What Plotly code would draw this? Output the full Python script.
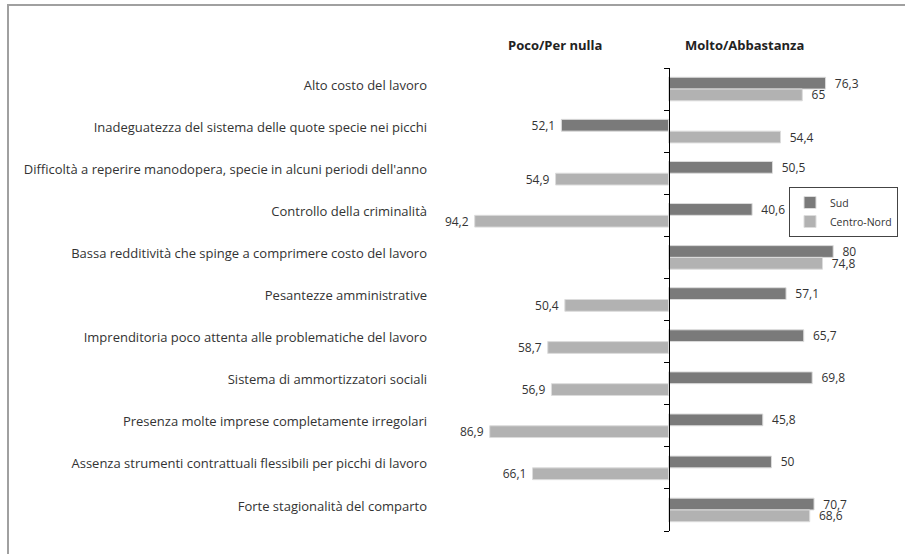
import plotly.graph_objects as go

categories = [
    "Alto costo del lavoro",
    "Inadeguatezza del sistema delle quote specie nei picchi",
    "Difficoltà a reperire manodopera, specie in alcuni periodi dell'anno",
    "Controllo della criminalità",
    "Bassa redditività che spinge a comprimere costo del lavoro",
    "Pesantezze amministrative",
    "Imprenditoria poco attenta alle problematiche del lavoro",
    "Sistema di ammortizzatori sociali",
    "Presenza molte imprese completamente irregolari",
    "Assenza strumenti contrattuali flessibili per picchi di lavoro",
    "Forte stagionalità del comparto",
]
# positive = Molto/Abbastanza, negative = Poco/Per nulla
sud = [76.3, -52.1, 50.5, 40.6, 80, 57.1, 65.7, 69.8, 45.8, 50, 70.7]
centro_nord = [65, 54.4, -54.9, -94.2, 74.8, -50.4, -58.7, -56.9, -86.9, -66.1, 68.6]
series_names = ["Sud", "Centro-Nord"]
colors = ["#7a7a7a", "#b2b2b2"]
headers = ["Poco/Per nulla", "Molto/Abbastanza"]

FONT = "Open Sans"
NB = "\u00a0"


def fmt(v):
    s = ("%g" % abs(v)).replace(".", ",")
    return NB * 2 + s if v >= 0 else s + NB


# page geometry (pixels)
W, H = 905, 554
ML, MR, MT, MB = 436, 7, 68, 23
PW = W - ML - MR
PH = H - MT - MB
XMIN = -113
XMAX = XMIN + PW / 2.058
n = len(categories)

fig = go.Figure()
for name, vals, col in zip(series_names, [sud, centro_nord], colors):
    fig.add_trace(go.Bar(
        x=vals, y=categories, orientation="h", name=name,
        marker=dict(color=col, line=dict(color="#dcdcdc", width=1)),
        text=[fmt(v) for v in vals], textposition="outside",
        constraintext="none",
        textfont=dict(family=FONT, size=12, color="#333333"),
        cliponaxis=False, hoverinfo="skip",
    ))

# invisible helper trace so the central axis (with boundary ticks) is drawn
fig.add_trace(go.Scatter(x=[None] * n, y=list(range(n)), mode="none",
                         yaxis="y2", showlegend=False, hoverinfo="skip"))

px_x = lambda p: (p - ML) / PW
px_y = lambda p: (H - MB - p) / PH

fig.update_layout(
    width=W, height=H,
    margin=dict(l=ML, r=MR, t=MT, b=MB),
    paper_bgcolor="white", plot_bgcolor="white",
    barmode="group", bargap=0.44, bargroupgap=0,
    font=dict(family=FONT, size=13, color="#333333"),
    xaxis=dict(range=[XMIN, XMAX], showgrid=False, zeroline=False,
               showticklabels=False, ticks="", showline=False, fixedrange=True),
    yaxis=dict(autorange=False, range=[n - 0.5, -0.5], showgrid=False,
               showline=False, ticks="", ticklabelstandoff=8, ticklabelshift=4,
               automargin=False,
               tickfont=dict(family=FONT, size=13, color="#333333")),
    yaxis2=dict(type="linear", overlaying="y", anchor="free",
                position=-XMIN / (XMAX - XMIN),
                side="left", autorange=False, range=[n - 0.5, -0.5], showgrid=False,
                showline=True, linecolor="black", linewidth=1,
                ticks="outside", ticklen=5, tickcolor="black", tickwidth=1,
                tickmode="array", tickvals=[i - 0.5 for i in range(n + 1)],
                showticklabels=False, zeroline=False, automargin=False),
    legend=dict(x=1, xanchor="right", y=px_y(187), yanchor="top",
                bordercolor="#444444", borderwidth=1,
                font=dict(family=FONT, size=10.5, color="#333333"),
                tracegroupgap=0, itemwidth=30, bgcolor="white"),
    showlegend=True,
    annotations=[
        dict(text="<b>" + headers[0] + "</b>", x=-55.4, xref="x", y=px_y(45), yref="paper",
             yanchor="middle", showarrow=False, font=dict(family=FONT, size=13, color="#222222")),
        dict(text="<b>" + headers[1] + "</b>", x=36.9, xref="x", y=px_y(45), yref="paper",
             yanchor="middle", showarrow=False, font=dict(family=FONT, size=13, color="#222222")),
    ],
    shapes=[
        dict(type="path", xref="paper", yref="paper",
             path="M %.4f,%.4f L %.4f,%.4f L %.4f,%.4f" % (
                 px_x(8), px_y(H + 20), px_x(8), px_y(5), px_x(W + 20), px_y(5)),
             line=dict(color="#a0a0a0", width=2)),
    ],
)

fig.write_html("out.html", config={"displayModeBar": False},
               post_script="document.body.style.margin='0px';document.body.style.overflow='hidden';")
